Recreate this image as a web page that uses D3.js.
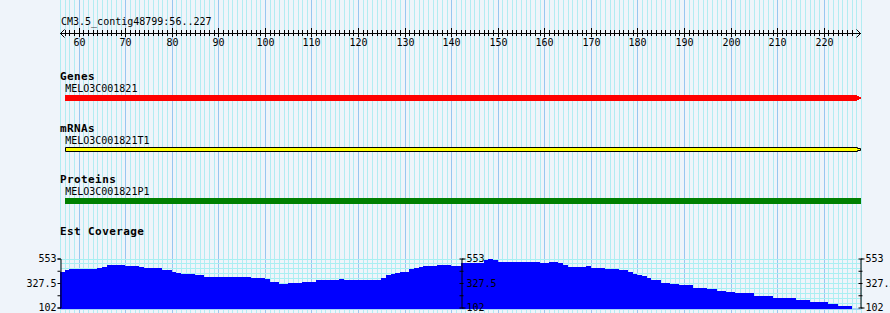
<!DOCTYPE html>
<html>
<head>
<meta charset="utf-8">
<script src="https://cdn.jsdelivr.net/npm/d3@7"></script>
<style>
body { margin: 0; background: #eff4fa; }
svg { display: block; }
text { font-family: "DejaVu Sans Mono", monospace; fill: #000; }
</style>
</head>
<body>
<script>
var width = 890, height = 313;

// visible region (bp), ruler
var rulerTitle = "CM3.5_contig48799:56..227";
var viewStart = 56, viewEnd = 228;
var rulerMajor = [ 60, 70, 80, 90, 100, 110, 120, 130, 140, 150, 160, 170, 180, 190, 200, 210, 220 ];

// tracks
var trackNames = [ "Genes", "mRNAs", "Proteins", "Est Coverage" ];
var featureNames = [ "MELO3C001821", "MELO3C001821T1", "MELO3C001821P1" ];
var featureStart = [ 57, 57, 57 ];
var featureEnd = [ 227, 227, 227 ];

// est coverage, run starts (bp) and depth
var covStart = [ 56, 57, 58, 64, 65, 66, 70, 73, 74, 78, 80, 81, 82, 85, 86, 87, 92, 97, 100, 101, 103, 105, 108, 111,
		116, 117, 125, 126, 127, 128, 129, 131, 132, 133, 134, 137, 140, 142, 147, 148, 149, 150, 154, 159, 161, 163, 164,
		165, 169, 170, 173, 176, 178, 179, 180, 181, 182, 183, 185, 187, 189, 192, 195, 197, 199, 201, 205, 209, 214, 217,
		221, 223 ];
var covValue = [ 427, 443, 452, 464, 473, 489, 482, 473, 464, 443, 433, 421, 412, 403, 397, 387, 381, 372, 360, 341, 320,
		329, 341, 351, 360, 351, 372, 403, 412, 421, 433, 452, 464, 473, 482, 489, 482, 507, 535, 550, 541, 519, 525, 516,
		525, 513, 489, 473, 482, 464, 452, 443, 433, 412, 403, 390, 372, 351, 329, 318, 305, 277, 268, 254, 245, 231, 212,
		189, 171, 157, 134, 119 ];
var covEnd = 226;
var covTicks = [ 102, 327.5, 553 ];

var x = d3.scaleLinear().domain([ viewStart, viewEnd ]).range([ 60, 861 ]);
var y = d3.scaleLinear().domain([ 102, 553 ]).range([ 307.5, 258.5 ]);

var svg = d3.select("body").append("svg")//
.attr("width", width)//
.attr("height", height);

svg.append("rect").attr("width", width).attr("height", height).attr("fill", "#eff4fa");

// vertical grid, one line per bp
var gridPos = d3.range(viewStart, viewEnd + 1);
svg.append("g").attr("class", "grid")//
.selectAll("line").data(gridPos).enter().append("line")//
.attr("x1", function(d) { return Math.round(x(d)) + 0.5; })//
.attr("x2", function(d) { return Math.round(x(d)) + 0.5; })//
.attr("y1", 0)//
.attr("y2", height)//
.attr("stroke", function(d) { return d % 10 == 0 ? "#98c6f0" : "#b2ecf2"; })//
.attr("stroke-width", 1);

// horizontal grid of the coverage plot
var hGrid = d3.range(0, 11).map(function(i) { return 102 + i * (553 - 102) / 10; });
svg.append("g")//
.selectAll("line").data(hGrid).enter().append("line")//
.attr("x1", x(viewStart))//
.attr("x2", x(viewEnd))//
.attr("y1", function(d) { return Math.round(y(d)) + 0.5; })//
.attr("y2", function(d) { return Math.round(y(d)) + 0.5; })//
.attr("stroke", "#a8f0f2");

svg.append("line")//
.attr("x1", x(viewStart)).attr("x2", x(viewEnd))//
.attr("y1", 309).attr("y2", 309)//
.attr("stroke", "#a4d4f4").attr("stroke-width", 2);

// ruler
svg.append("text").attr("x", 61).attr("y", 24.5).attr("font-size", "10px").text(rulerTitle);

svg.append("line")//
.attr("x1", x(viewStart)).attr("x2", x(viewEnd))//
.attr("y1", 33.5).attr("y2", 33.5)//
.attr("stroke", "#000");
svg.append("path").attr("d", "M64.5,29.5L60.5,33.5L64.5,37.5").attr("fill", "none").attr("stroke", "#000");
svg.append("path").attr("d", "M856.5,29.5L860.5,33.5L856.5,37.5").attr("fill", "none").attr("stroke", "#000");

var minor = d3.range(viewStart + 1, viewEnd - 1).filter(function(d) { return d % 10 != 0; });
svg.append("g")//
.selectAll("line").data(minor).enter().append("line")//
.attr("x1", function(d) { return Math.round(x(d)) + 0.5; })//
.attr("x2", function(d) { return Math.round(x(d)) + 0.5; })//
.attr("y1", 30).attr("y2", 36)//
.attr("stroke", "#000");

var ruler = svg.append("g").attr("transform", "translate(0,28)")//
.call(d3.axisBottom(x).tickValues(rulerMajor).tickSize(9).tickPadding(2));
ruler.select(".domain").remove();
ruler.selectAll(".tick line").attr("stroke", "#000");
ruler.selectAll(".tick text").attr("font-family", "DejaVu Sans Mono").attr("font-size", "10px").attr("fill", "#000");
ruler.selectAll(".tick").attr("transform", function(d) { return "translate(" + (Math.round(x(d)) + 0.5) + ",0)"; });

// track titles
var titleY = [ 80, 132, 183, 234.5 ];
svg.append("g")//
.selectAll("text").data(trackNames).enter().append("text")//
.attr("x", 60)//
.attr("y", function(d, i) { return titleY[i]; })//
.attr("font-size", "11px")//
.attr("font-weight", "bold")//
.attr("letter-spacing", "0.4px")//
.text(function(d) { return d; });

// feature labels
var labelY = [ 92, 144, 195 ];
svg.append("g")//
.selectAll("text").data(featureNames).enter().append("text")//
.attr("x", function(d, i) { return x(featureStart[i]) + 0.5; })//
.attr("y", function(d, i) { return labelY[i]; })//
.attr("font-size", "10px")//
.text(function(d) { return d; });

// gene: red arrow
var gx1 = Math.round(x(featureStart[0])), gx2 = Math.round(x(featureEnd[0] + 1));
svg.append("path")//
.attr("d", "M" + gx1 + ",95H" + (gx2 - 4) + "V96H" + (gx2 - 2) + "V97H" + gx2 + "V99H" + (gx2 - 2) + "V100H" + (gx2 - 4)
		+ "V101H" + gx1 + "Z")//
.attr("fill", "#ff0000");

// mRNA: yellow arrow with black outline
var mx1 = Math.round(x(featureStart[1])) + 0.5, mx2 = Math.round(x(featureEnd[1] + 1)) - 0.5;
svg.append("path")//
.attr("d", "M" + mx1 + ",147.5H" + (mx2 - 3) + "V148.5H" + mx2 + "V150.5H" + (mx2 - 3) + "V151.5H" + mx1 + "Z")//
.attr("fill", "#ffff00")//
.attr("stroke", "#000");

// protein: green box
svg.append("rect")//
.attr("x", Math.round(x(featureStart[2])))//
.attr("y", 198)//
.attr("width", Math.round(x(featureEnd[2] + 1)) - Math.round(x(featureStart[2])))//
.attr("height", 6)//
.attr("fill", "#008000");

// est coverage bars
svg.append("g").attr("shape-rendering", "crispEdges")//
.selectAll("rect").data(covValue).enter().append("rect")//
.attr("x", function(d, i) { return Math.round(x(covStart[i])); })//
.attr("width", function(d, i) {
	var end = i < covStart.length - 1 ? covStart[i + 1] : covEnd;
	return Math.round(x(end)) - Math.round(x(covStart[i]));
})//
.attr("y", function(d) { return Math.round(y(d)); })//
.attr("height", function(d) { return Math.round(y(102)) - Math.round(y(d)) + 1; })//
.attr("fill", "#0000ff");

// coverage axes: left, middle, right
var axisTicks = [ 102, 214.75, 327.5, 440.25, 553 ];
function fmt(d) {
	return covTicks.indexOf(d) >= 0 ? String(d) : "";
}

function styleAxis(g) {
	g.selectAll("path, line").attr("stroke", "#000");
	g.selectAll("text").attr("font-family", "DejaVu Sans Mono").attr("font-size", "10px").attr("fill", "#000");
}

var leftAxis = svg.append("g").attr("transform", "translate(60.5,0)")//
.call(d3.axisLeft(y).tickValues(axisTicks).tickFormat(fmt).tickSizeInner(3).tickSizeOuter(3).tickPadding(1));
styleAxis(leftAxis);

var midX = Math.round((x(viewStart) + x(viewEnd)) / 2) + 0.5;
[ midX, 860.5 ].forEach(function(ax) {
	var g = svg.append("g").attr("transform", "translate(" + ax + ",0)")//
	.call(d3.axisRight(y).tickValues(axisTicks).tickFormat(fmt).tickSizeInner(2).tickSizeOuter(4).tickPadding(3));
	g.selectAll(".tick line").attr("x1", -2);
	styleAxis(g);
});
</script>
</body>
</html>
